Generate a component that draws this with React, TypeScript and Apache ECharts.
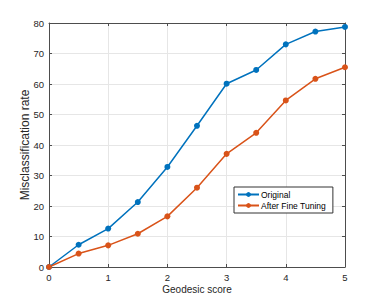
import React, { useEffect, useRef } from "react";
import * as echarts from "echarts";

const xValues = [0, 0.5, 1, 1.5, 2, 2.5, 3, 3.5, 4, 4.5, 5];
const originalValues = [0, 7.3, 12.6, 21.3, 32.8, 46.3, 60.1, 64.6, 73.0, 77.2, 78.7];
const fineTunedValues = [0, 4.4, 7.1, 10.9, 16.6, 26.0, 37.1, 44.0, 54.6, 61.7, 65.5];
const seriesNames = ["Original", "After Fine Tuning"];
const xTitle = "Geodesic score";
const yTitle = "Misclassification rate";

const FONT = "'Liberation Sans', Arial, Helvetica, sans-serif";
const AXIS_COLOR = "#4d4d4d";
const TEXT_COLOR = "#262626";

export default function App() {
  const ref = useRef<HTMLDivElement>(null);
  useEffect(() => {
    if (!ref.current) return;
    const chart = echarts.init(ref.current, undefined, { renderer: "svg" });
    const mkPairs = (vals: number[]) => xValues.map((x, i) => [x, vals[i]]);
    const baseX = { type: "value" as const, min: 0, max: 5, interval: 1 };
    const baseY = { type: "value" as const, min: 0, max: 80, interval: 10 };
    const line = { show: true, onZero: false, lineStyle: { color: AXIS_COLOR, width: 1 } };
    const tick = { show: true, inside: true, length: 3, lineStyle: { color: AXIS_COLOR } };
    chart.setOption({
      animation: false,
      textStyle: { fontFamily: FONT },
      grid: { left: 49, right: 36, top: 23, bottom: 34, show: false },
      legend: {
        data: seriesNames,
        orient: "vertical",
        left: 234,
        top: 187,
        padding: [2, 7, 2, 3],
        itemWidth: 21,
        itemHeight: 6,
        itemGap: 0,
        borderColor: "#333",
        borderWidth: 1,
        backgroundColor: "#fff",
        textStyle: { fontFamily: FONT, fontSize: 8.5, color: "#000", padding: [0, 0, 0, -3], lineHeight: 11 },
      },
      xAxis: [
        {
          ...baseX,
          position: "bottom",
          name: xTitle,
          nameLocation: "middle",
          nameGap: 17,
          nameMoveOverlap: false,
          nameTextStyle: { fontFamily: FONT, fontSize: 10, color: TEXT_COLOR },
          axisLine: line,
          axisTick: tick,
          axisLabel: { fontFamily: FONT, fontSize: 9.5, color: TEXT_COLOR, margin: 5 },
          splitLine: { show: true, lineStyle: { color: "#e6e6e6", width: 1 } },
        },
        {
          ...baseX,
          position: "top",
          axisLine: line,
          axisTick: tick,
          axisLabel: { show: false },
          splitLine: { show: false },
        },
      ],
      yAxis: [
        {
          ...baseY,
          position: "left",
          name: yTitle,
          nameLocation: "middle",
          nameGap: 18,
          nameMoveOverlap: false,
          nameTextStyle: { fontFamily: FONT, fontSize: 12, color: TEXT_COLOR },
          axisLine: line,
          axisTick: tick,
          axisLabel: { fontFamily: FONT, fontSize: 9.5, color: TEXT_COLOR, margin: 5 },
          splitLine: { show: true, lineStyle: { color: "#e6e6e6", width: 1 } },
        },
        {
          ...baseY,
          position: "right",
          axisLine: line,
          axisTick: tick,
          axisLabel: { show: false },
          splitLine: { show: false },
        },
      ],
      series: [
        {
          name: seriesNames[0],
          type: "line",
          data: mkPairs(originalValues),
          symbol: "circle",
          symbolSize: 6,
          lineStyle: { color: "#0072BD", width: 1.5 },
          itemStyle: { color: "#0072BD" },
        },
        {
          name: seriesNames[1],
          type: "line",
          data: mkPairs(fineTunedValues),
          symbol: "circle",
          symbolSize: 6,
          lineStyle: { color: "#D95319", width: 1.5 },
          itemStyle: { color: "#D95319" },
        },
      ],
    });
    return () => chart.dispose();
  }, []);
  return <div ref={ref} style={{ width: 381, height: 301, position: "absolute", left: 0, top: 0, background: "#fff" }} />;
}
